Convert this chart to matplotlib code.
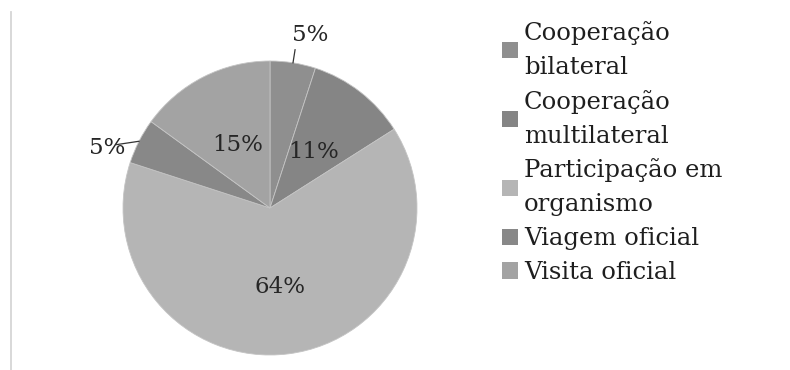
import numpy as np
import matplotlib
matplotlib.use('Agg')
import matplotlib.pyplot as plt
from matplotlib.lines import Line2D

# data
categories = ['Cooperação\nbilateral', 'Cooperação\nmultilateral',
              'Participação em\norganismo', 'Viagem oficial', 'Visita oficial']
shares = [5, 11, 64, 5, 15]
slice_colors = ['#8f8f8f', '#858585', '#b5b5b5', '#888888', '#a3a3a3']

W, H = 790, 370
fig = plt.figure(figsize=(W / 100, H / 100), dpi=100)
fig.patch.set_facecolor('white')

cx, cy, r = 270, 208, 147  # pie centre / radius in pixels
ax = fig.add_axes([(cx - r) / W, (H - cy - r) / H, 2 * r / W, 2 * r / H])

wedges, _ = ax.pie(shares, colors=slice_colors, startangle=90, counterclock=False,
                   wedgeprops=dict(edgecolor='#c4c4c4', linewidth=0.6))
ax.set_xlim(-1, 1)
ax.set_ylim(-1, 1)
ax.set_axis_off()

lab_font = dict(family='DejaVu Serif', fontsize=16.5, color='#262626')
for w, v in zip(wedges, shares):
    mid = np.deg2rad((w.theta1 + w.theta2) / 2)
    dx, dy = np.cos(mid), np.sin(mid)
    txt = '%d%%' % v
    if v < 6:  # small slices: outside label with a short leader line
        if dy > 0.9:
            tx, ty = dx * 1.22 + 0.08, dy * 1.19
            lx, ly = dx * 1.09, dy * 1.09
        else:
            tx, ty = dx * 1.24, dy * 0.9
            lx, ly = dx * 1.17, dy * 0.95
        ax.plot([dx, lx], [dy, ly], color='#333333', lw=0.9, clip_on=False)
        ax.text(tx, ty, txt, ha='center', va='center', **lab_font)
    else:
        d = 0.48 if v < 50 else 0.54
        ax.text(dx * d, dy * d, txt, ha='center', va='center', **lab_font)

leg = fig.legend(wedges, categories, loc='upper left',
                 bbox_to_anchor=(502 / W, 1 - 21 / H), frameon=False,
                 prop=dict(family='DejaVu Serif', size=17.5),
                 handlelength=0.65, handleheight=0.65, handletextpad=0.25,
                 labelspacing=0.45, borderpad=0, borderaxespad=0)
for t in leg.get_texts():
    t.set_linespacing(1.6)
    t.set_color('#1e1e1e')
for h in leg.legend_handles:
    h.set_edgecolor('none')

# thin grey rule at the left edge
fig.add_artist(Line2D([11 / W, 11 / W], [0, 1 - 12 / H], transform=fig.transFigure,
                      color='#d6d6d6', lw=1.3))

fig.savefig('out.png', dpi=100)
